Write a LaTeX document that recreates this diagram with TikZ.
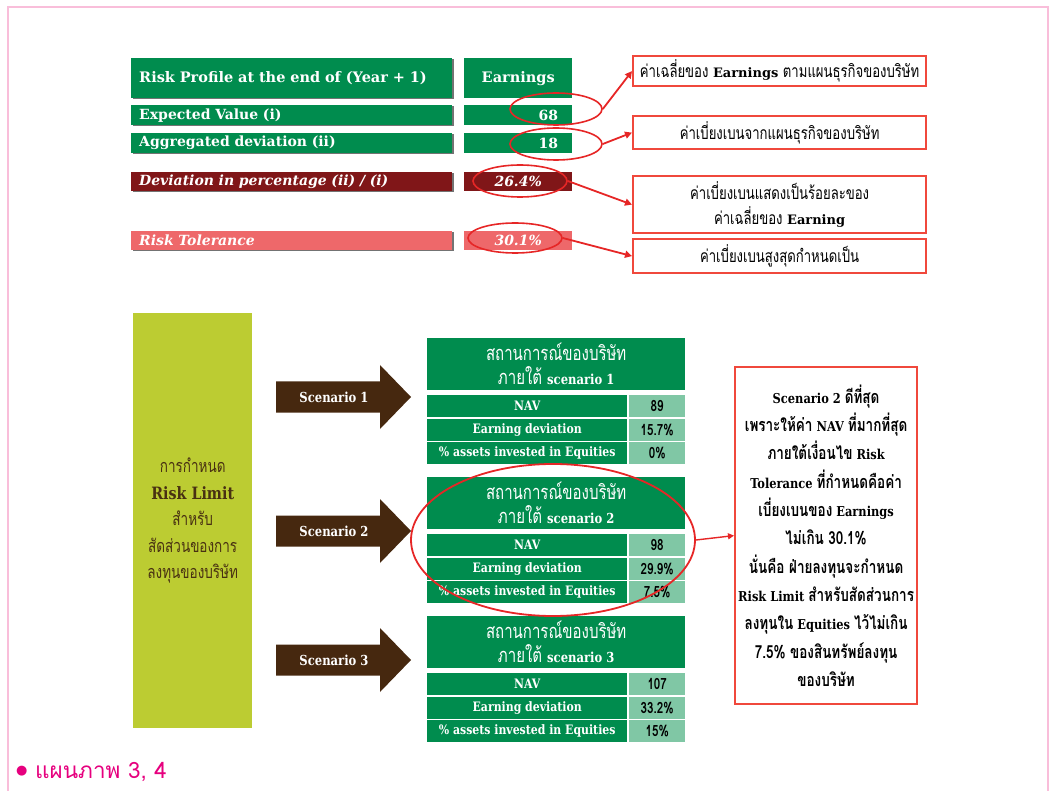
\documentclass[tikz,border=0pt]{standalone}
\usepackage{fontspec}
\usetikzlibrary{shapes.geometric,arrows.meta,shadows}
\setmainfont{DejaVu Serif}
\newfontfamily\lc[FakeStretch=0.84]{DejaVu Serif}
\newfontfamily\thai[Script=Thai,FakeStretch=0.75]{Loma}
\newfontfamily\thcap[Script=Thai]{Loma}
\newfontfamily\djs{DejaVu Sans}
\newcommand\tha[1]{{\thai\fontsize{18}{28.3}\selectfont #1}}
\newcommand\thr[1]{{\thai\mdseries\fontsize{17.5}{25}\selectfont #1}}
\definecolor{G}{RGB}{0,140,78}
\definecolor{DR}{RGB}{128,22,24}
\definecolor{LR}{RGB}{238,104,106}
\definecolor{RED}{RGB}{230,38,38}
\definecolor{REDB}{RGB}{240,72,60}
\definecolor{LIME}{RGB}{188,204,50}
\definecolor{BRN}{RGB}{72,48,18}
\definecolor{ARR}{RGB}{70,40,15}
\definecolor{LG}{RGB}{128,199,165}
\definecolor{MAG}{RGB}{230,0,126}
\definecolor{PINKF}{RGB}{249,190,218}
\begin{document}
\begin{tikzpicture}[x=1pt,y=-1pt,
  shd/.style={general shadow={fill=black!55, shadow xshift=1.3pt, shadow yshift=-1.3pt}},
  gL/.style={anchor=north west, text=white, font=\bfseries\fontsize{14}{15}\selectfont,
     text width=305pt, inner xsep=8pt, inner ysep=0pt, align=left, shd},
  gR/.style={anchor=north west, text=white, font=\bfseries\fontsize{14}{15}\selectfont,
     text width=80pt, inner xsep=14pt, inner ysep=0pt},
  redell/.style={ellipse, draw=RED, line width=1.6pt, inner sep=0pt},
  cbox/.style={anchor=north west, draw=REDB, line width=2.2pt, fill=white, minimum width=293pt,
     align=center, font=\bfseries\fontsize{13}{25}\selectfont, inner sep=2pt},
  redarr/.style={draw=RED, line width=1.8pt, -{Triangle[length=7pt,width=7pt]}},
  tab/.style={anchor=north west, fill=G, text=white, inner sep=0pt, align=center},
  tabtxt/.style={font=\lc\bfseries\fontsize{13}{14}\selectfont},
  valtxt/.style={font=\thai\bfseries\fontsize{15.5}{16}\selectfont, text=black}]
\useasboundingbox (0,0) rectangle (1052,791);
% frame
\draw[PINKF, line width=2.6pt] (8,791) -- (8,7) -- (1048,7) -- (1048,791);

% top table
\node[gL, fill=G, minimum height=40pt, font=\bfseries\fontsize{14.5}{16}\selectfont] (hd) at (131,58) {Risk Profile at the end of (Year + 1)};
\node[gR, fill=G, minimum height=40pt, align=center, font=\bfseries\fontsize{14.5}{16}\selectfont] (he) at (464,58) {Earnings};
\node[gL, fill=G, minimum height=20pt] (ev) at (131,105) {Expected Value (i)};
\node[gR, fill=G, minimum height=20pt, align=right] (evv) at (464,105) {68};
\node[gL, fill=G, minimum height=20pt] (ad) at (131,133) {Aggregated deviation (ii)};
\node[gR, fill=G, minimum height=20pt, align=right] (adv) at (464,133) {18};
\node[gL, fill=DR, minimum height=19pt, font=\bfseries\itshape\fontsize{14}{15}\selectfont] (dp) at (131,172) {Deviation in percentage (ii) / (i)};
\node[gR, fill=DR, minimum height=19pt, align=center, font=\bfseries\itshape\fontsize{14}{15}\selectfont] (dpv) at (464,172) {26.4\%};
\node[gL, fill=LR, minimum height=19pt, general shadow={fill=none}, font=\bfseries\itshape\fontsize{14}{15}\selectfont] (rt) at (131,231) {Risk Tolerance};
\node[gR, fill=LR, minimum height=19pt, align=center, font=\bfseries\itshape\fontsize{14}{15}\selectfont] (rtv) at (464,231) {30.1\%};

% ellipses
\node[redell, minimum width=92pt, minimum height=32pt] (e1) at (556,109) {};
\node[redell, minimum width=92pt, minimum height=32pt] (e2) at (556,144) {};
\node[redell, minimum width=94pt, minimum height=32pt] (e3) at (520,181) {};
\node[redell, minimum width=94pt, minimum height=30pt] (e4) at (515,238) {};

% callouts
\node[cbox, minimum height=30pt] (c1) at (632,55) {\thr{ค่าเฉลี่ยของ} Earnings \thr{ตามแผนธุรกิจของบริษัท}};
\node[cbox, minimum height=33pt] (c2) at (632,115) {\thr{ค่าเบี่ยงเบนจากแผนธุรกิจของบริษัท}};
\node[cbox, minimum height=57pt] (c3) at (632,175) {\thr{ค่าเบี่ยงเบนแสดงเป็นร้อยละของ}\\\thr{ค่าเฉลี่ยของ} Earning};
\node[cbox, minimum height=34pt] (c4) at (632,238) {\thr{ค่าเบี่ยงเบนสูงสุดกำหนดเป็น}};

\draw[redarr] (e1.east) -- (c1.west);
\draw[redarr] (e2.east) -- (c2.west);
\draw[redarr] (e3.east) -- (c3.west);
\draw[redarr] (e4.east) -- (c4.west);

% left panel
\node[fill=LIME, anchor=north west, minimum width=119pt, minimum height=415pt, inner sep=0pt,
  align=center, text=BRN, font=\thai\fontsize{18}{26.5}\selectfont] (lp) at (133,313)
  {การกำหนด\\{\lc\bfseries\fontsize{17}{26.5}\selectfont Risk Limit}\\สำหรับ\\สัดส่วนของการ\\ลงทุนของบริษัท};

% scenarios
\foreach \t/\y/\a/\b/\c [count=\i] in {338/397/89/15.7\%/0\%, 477/531/98/29.9\%/7.5\%, 616/660/107/33.2\%/15\%}{
  \fill[ARR] (276,{\y-15.5}) -- (380,{\y-15.5}) -- (380,{\y-32}) -- (411,\y) -- (380,{\y+32})
     -- (380,{\y+15.5}) -- (276,{\y+15.5}) -- cycle;
  \node[text=white, font=\lc\bfseries\fontsize{13.8}{15}\selectfont] (s\i) at (334,\y) {Scenario \i};
  \node[tab, minimum width=258pt, minimum height=52pt,
     font=\thai\fontsize{20}{24}\selectfont] (h\i) at (427,\t)
     {สถานการณ์ของบริษัท\\ภายใต้ {\lc\bfseries\fontsize{13.8}{24}\selectfont scenario \i}};
  \node[tab, tabtxt, minimum width=200pt, minimum height=22pt] (n\i) at (427,{\t+57}) {NAV};
  \node[tab, valtxt, fill=LG, minimum width=56pt, minimum height=22pt] (nv\i) at (629,{\t+57}) {\a};
  \node[tab, tabtxt, minimum width=200pt, minimum height=22pt] (d\i) at (427,{\t+80.5}) {Earning deviation};
  \node[tab, valtxt, fill=LG, minimum width=56pt, minimum height=22pt] (dv\i) at (629,{\t+80.5}) {\b};
  \node[tab, tabtxt, minimum width=200pt, minimum height=22pt] (p\i) at (427,{\t+104}) {\% assets invested in Equities};
  \node[tab, valtxt, fill=LG, minimum width=56pt, minimum height=22pt] (pv\i) at (629,{\t+104}) {\c};
}

% big ellipse and conclusion
\node[ellipse, draw=RED, line width=1.8pt, minimum width=284pt, minimum height=152pt] (eb) at (553,540) {};
\node[anchor=north west, draw=REDB, line width=2.2pt, fill=white, minimum width=182pt, minimum height=337pt,
  align=center, inner sep=2pt, font=\lc\bfseries\fontsize{13.6}{28.3}\selectfont] (rb) at (734,366)
 {Scenario 2 \tha{ดีที่สุด}\\
  \tha{เพราะให้ค่า} NAV \tha{ที่มากที่สุด}\\
  \tha{ภายใต้เงื่อนไข} Risk\\
  Tolerance \tha{ที่กำหนดคือค่า}\\
  \tha{เบี่ยงเบนของ} Earnings\\
  \tha{ไม่เกิน 30.1\%}\\
  \tha{นั่นคือ ฝ่ายลงทุนจะกำหนด}\\
  Risk Limit \tha{สำหรับสัดส่วนการ}\\
  \tha{ลงทุนใน} Equities \tha{ไว้ไม่เกิน}\\
  \tha{7.5\% ของสินทรัพย์ลงทุน}\\
  \tha{ของบริษัท}};
\draw[draw=RED, line width=1.4pt, -{Triangle[length=6pt,width=6pt]}] (eb.east) -- (rb.west);

% caption
\node[anchor=west, text=MAG, inner sep=0pt, font=\thcap\fontsize{22.5}{26}\selectfont] (cap) at (16,772) {\raisebox{3.5pt}{\djs\fontsize{13}{20}\selectfont ●} แผนภาพ 3, 4};
\end{tikzpicture}
\end{document}
